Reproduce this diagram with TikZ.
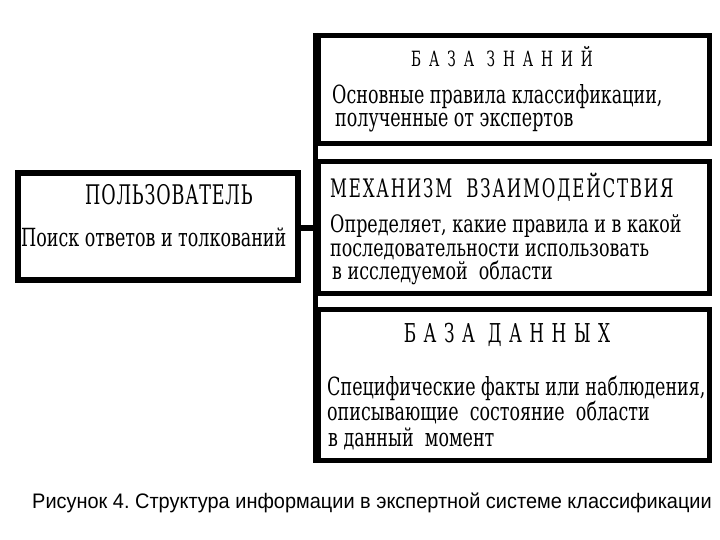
\documentclass[tikz,border=0pt]{standalone}
\usepackage{fontspec}
\setmainfont{DejaVu Serif}
\newfontfamily\boxfont[FakeStretch=0.70]{DejaVu Serif}
\newfontfamily\mechfont[FakeStretch=0.73]{DejaVu Serif}
\newfontfamily\headfont[FakeStretch=0.65]{DejaVu Serif}
\newfontfamily\capfont[FakeStretch=0.95]{Liberation Sans}
\frenchspacing
\begin{document}
\begin{tikzpicture}[x=1pt,y=-1pt,
  frame/.style={draw, line width=5pt, rectangle, inner sep=0pt, anchor=north west},
  bodytxt/.style={inner sep=0pt, anchor=base west, font=\boxfont\fontsize{25}{25}\selectfont},
  mechtxt/.style={inner sep=0pt, anchor=base west, font=\mechfont\fontsize{24}{24}\selectfont},
  headtxt/.style={inner sep=0pt, anchor=base},
  link/.style={line width=5pt}]
\useasboundingbox (0,0) rectangle (720,540);
\fill[white] (0,0) rectangle (720,540);
% boxes
\node[frame, minimum width=391.5pt, minimum height=108pt] (kb) at (315.5,33) {};
\node[frame, minimum width=391.5pt, minimum height=131pt] (mech) at (315.5,159.5) {};
\node[frame, minimum width=391pt, minimum height=151.5pt] (db) at (315.5,306.5) {};
\node[frame, line width=6pt, minimum width=280pt, minimum height=107pt] (user) at (15,170) {};
% connectors
\draw[link] (kb.north west) -- (db.south west);
\draw[link, line width=6pt] (user.east |- 0,228) -- (mech.west |- 0,228);
% knowledge base
\node[headtxt, font=\headfont\fontsize{21}{21}\selectfont\addfontfeature{LetterSpace=38}] (kbh) at (502,67) {БАЗА ЗНАНИЙ};
\node[bodytxt] (kb1) at (332,104) {Основные правила классификации,};
\node[bodytxt] (kb2) at (335,127) {полученные от экспертов};
% mechanism
\node[headtxt, anchor=base west, font=\headfont\fontsize{25.5}{25.5}\selectfont\addfontfeature{LetterSpace=7}] (mh) at (330,197) {МЕХАНИЗМ\ \ ВЗАИМОДЕЙСТВИЯ};
\node[mechtxt] (m1) at (330,233) {Определяет, какие правила и в какой};
\node[mechtxt] (m2) at (330,256) {последовательности использовать};
\node[mechtxt] (m3) at (332,279) {в исследуемой\ \ области};
% database
\node[headtxt, font=\headfont\fontsize{26}{26}\selectfont\addfontfeature{LetterSpace=29}] (dh) at (507,342) {БАЗА ДАННЫХ};
\node[bodytxt] (d1) at (327,395) {Специфические факты или наблюдения,};
\node[bodytxt] (d2) at (327,420) {описывающие\ \ состояние\ \ области};
\node[bodytxt] (d3) at (328,446) {в данный\ \ момент};
% user
\node[headtxt, font=\headfont\fontsize{27}{27}\selectfont\addfontfeature{LetterSpace=3}] (uh) at (169,205) {ПОЛЬЗОВАТЕЛЬ};
\node[bodytxt] (u1) at (21,247) {Поиск ответов и толкований};
% caption
\node[inner sep=0pt, anchor=base west, font=\capfont\fontsize{21}{21}\selectfont] (cap) at (32,508) {Рисунок 4. Структура информации в экспертной системе классификации};
\end{tikzpicture}
\end{document}
